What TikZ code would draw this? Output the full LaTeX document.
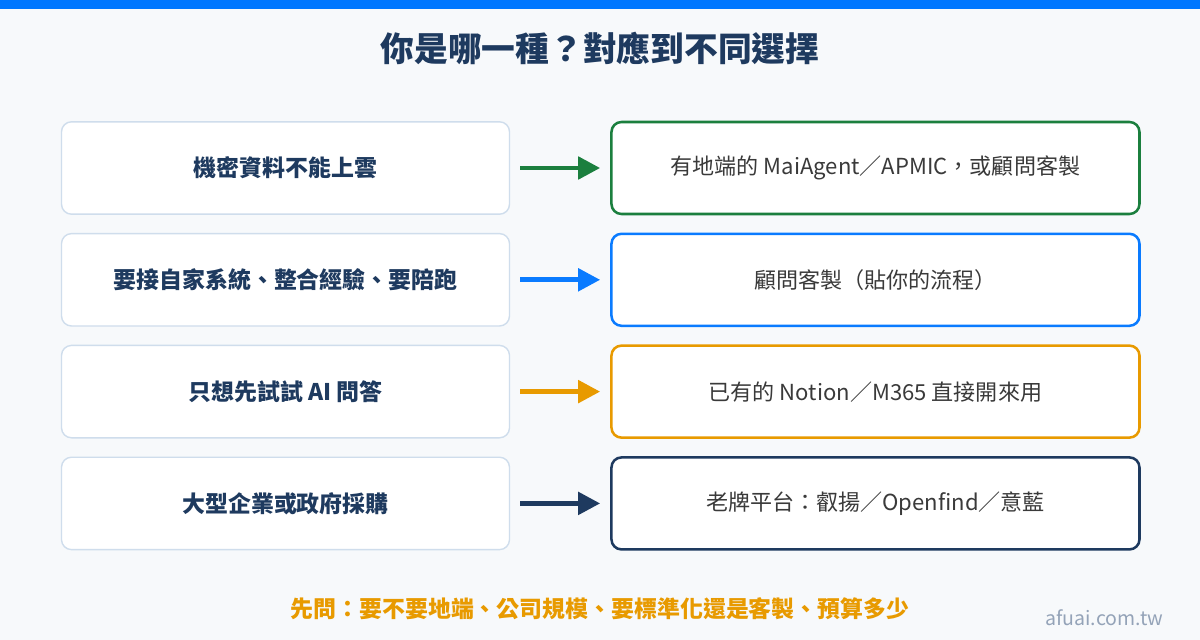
\documentclass[tikz,border=0pt]{standalone}
\usepackage{fontspec}
\setmainfont{Noto Sans CJK TC}
\usepackage{tikz}
\usetikzlibrary{arrows.meta, positioning}

\definecolor{navy}{HTML}{1E3A5F}
\definecolor{topblue}{HTML}{0077FF}
\definecolor{pagebg}{HTML}{F7F9FB}
\definecolor{lineblue}{HTML}{CFDDEC}
\definecolor{okgreen}{HTML}{1B7F3E}
\definecolor{skyblue}{HTML}{0A7BFF}
\definecolor{amber}{HTML}{E89A00}
\definecolor{bodytext}{HTML}{3A3A3A}
\definecolor{markgray}{HTML}{94A3B8}

\begin{document}
\begin{tikzpicture}[
    node distance=0.45cm,
    askbox/.style={rectangle, rounded corners=0.25cm, draw=lineblue, line width=1pt, fill=white,
        minimum width=11.2cm, minimum height=2.31cm, text=navy, font=\fontsize{16.3}{19}\selectfont\bfseries},
    pickbox/.style={rectangle, rounded corners=0.25cm, draw=#1, line width=1.8pt, fill=white,
        minimum width=13.2cm, minimum height=2.3cm, text=bodytext, font=\fontsize{15.7}{18}\selectfont},
    arrow/.style={-{Triangle[length=0.55cm, width=0.55cm]}, line width=3.5pt, draw=#1,
        shorten <=0.25cm, shorten >=0.25cm}
]
% page and top bar
\fill[pagebg] (0,0) rectangle (30,-16);
\useasboundingbox (0,0) rectangle (30,-16);
\fill[topblue] (0,0) rectangle (30,-0.22);

\node[text=navy, font=\fontsize{24}{28}\selectfont\bfseries] (title) at (15,-1.2) {你是哪一種？對應到不同選擇};

% left: situations
\node[askbox] (cloud) at (7.1375,-4.2) {機密資料不能上雲};
\node[askbox, below=of cloud] (custom) {要接自家系統、整合經驗、要陪跑};
\node[askbox, below=of custom] (trial) {只想先試試 AI 問答};
\node[askbox, below=of trial] (gov) {大型企業或政府採購};

% right: choices
\node[pickbox=okgreen, right=2.5cm of cloud] (onprem) {有地端的 MaiAgent／APMIC，或顧問客製};
\node[pickbox=skyblue, right=2.5cm of custom] (consult) {顧問客製（貼你的流程）};
\node[pickbox=amber, right=2.5cm of trial] (tools) {已有的 Notion／M365 直接開來用};
\node[pickbox=navy, right=2.5cm of gov] (vendor) {老牌平台：叡揚／Openfind／意藍};

\draw[arrow=okgreen] (cloud) -- (onprem);
\draw[arrow=skyblue] (custom) -- (consult);
\draw[arrow=amber] (trial) -- (tools);
\draw[arrow=navy] (gov) -- (vendor);

\node[text=amber, font=\fontsize{16.3}{19}\selectfont\bfseries] (hint) at (15,-15.22) {先問：要不要地端、公司規模、要標準化還是客製、預算多少};
\node[anchor=east, text=markgray, font=\fontsize{13.9}{16}\selectfont] (site) at (29.2,-15.45) {afuai.com.tw};
\end{tikzpicture}
\end{document}
